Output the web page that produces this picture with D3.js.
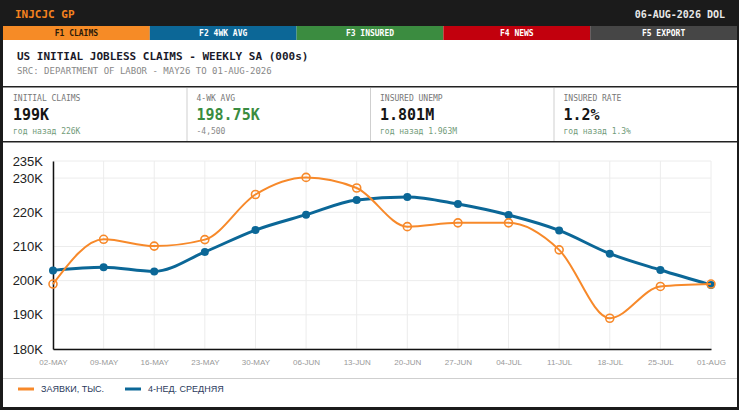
<!DOCTYPE html>
<html>
<head>
<meta charset="utf-8">
<script src="https://cdn.jsdelivr.net/npm/d3@7"></script>
<style>
  html, body { margin: 0; padding: 0; background: #fff; }
  svg { display: block; }
  .mono { font-family: "DejaVu Sans Mono", monospace; }
</style>
</head>
<body>
<div id="chart"></div>
<script>
// weeks shown on the x axis
var weeks = ['02-MAY', '09-MAY', '16-MAY', '23-MAY', '30-MAY', '06-JUN', '13-JUN',
             '20-JUN', '27-JUN', '04-JUL', '11-JUL', '18-JUL', '25-JUL', '01-AUG'];
// initial claims, thousands
var claims = [199, 212.1, 210.1, 212, 225.2, 230.2, 227.1, 215.8, 216.9, 216.9, 209, 189, 198.3, 199];
// 4-week moving average, thousands
var avg4wk = [203, 203.9, 202.7, 208.4, 214.8, 219.3, 223.6, 224.5, 222.4, 219.2, 214.7, 207.9, 203.1, 198.75];
var yTicks = [180, 190, 200, 210, 220, 230, 235];

var tabs = ['F1 CLAIMS', 'F2 4WK AVG', 'F3 INSURED', 'F4 NEWS', 'F5 EXPORT'];
var tabColors = ['#f68b26', '#0c6797', '#3b8c40', '#c2000d', '#464646'];

var statLabels = ['INITIAL CLAIMS', '4-WK AVG', 'INSURED UNEMP', 'INSURED RATE'];
var statValues = ['199K', '198.75K', '1.801M', '1.2%'];
var statSubs = ['год назад 226K', '-4,500', 'год назад 1.963M', 'год назад 1.3%'];

var W = 739, H = 410;
var orange = '#f7892a', blue = '#0b6797';

var svg = d3.select('#chart').append('svg')
    .attr('width', W)
    .attr('height', H);

// header bar
svg.append('rect').attr('x', 0).attr('y', 0).attr('width', W).attr('height', 26).style('fill', '#1b1b1b');
svg.append('text').attr('class', 'mono')
    .attr('x', 15).attr('y', 18)
    .style('font-size', '11px').style('font-weight', 'bold').style('fill', '#f5821f')
    .text('INJCJC GP');
svg.append('text').attr('class', 'mono')
    .attr('x', 725).attr('y', 18).attr('text-anchor', 'end')
    .style('font-size', '10px').style('font-weight', 'bold').style('fill', '#e8e8e8')
    .text('06-AUG-2026 DOL');

// frame
svg.append('rect').attr('x', 0).attr('y', 26).attr('width', W).attr('height', H - 26).style('fill', '#1b1b1b');
svg.append('rect').attr('x', 3).attr('y', 26).attr('width', 734).attr('height', 381).style('fill', '#fff');

// function key tabs
var tabX = d3.scaleBand().domain(tabs).range([3, 737]);
svg.selectAll('rect.tab').data(tabs).enter().append('rect')
    .attr('class', 'tab')
    .attr('x', function(d) { return tabX(d); })
    .attr('y', 26)
    .attr('width', tabX.bandwidth())
    .attr('height', 14)
    .style('fill', function(d, i) { return tabColors[i]; });
svg.selectAll('text.tab').data(tabs).enter().append('text')
    .attr('class', 'tab mono')
    .attr('x', function(d) { return tabX(d) + tabX.bandwidth() / 2; })
    .attr('y', 36)
    .attr('text-anchor', 'middle')
    .style('font-size', '8px').style('font-weight', 'bold')
    .style('fill', function(d, i) { return i === 0 ? '#2a1a0a' : '#fff'; })
    .text(function(d) { return d; });

// title block
svg.append('text').attr('class', 'mono')
    .attr('x', 17).attr('y', 60)
    .style('font-size', '11px').style('font-weight', 'bold').style('fill', '#1a1a2a')
    .text('US INITIAL JOBLESS CLAIMS - WEEKLY SA (000s)');
svg.append('text').attr('class', 'mono')
    .attr('x', 17).attr('y', 74)
    .style('font-size', '9px').style('fill', '#888')
    .text('SRC: DEPARTMENT OF LABOR - MAY26 TO 01-AUG-2026');

svg.append('rect').attr('x', 3).attr('y', 86).attr('width', 734).attr('height', 1.5).style('fill', '#222');
svg.append('rect').attr('x', 3).attr('y', 141).attr('width', 734).attr('height', 1.5).style('fill', '#222');

// stat boxes
var statX = d3.scaleBand().domain(d3.range(4)).range([3, 737]);
var stats = svg.selectAll('g.stat').data(statLabels).enter().append('g')
    .attr('class', 'stat')
    .attr('transform', function(d, i) { return 'translate(' + statX(i) + ',0)'; });
stats.filter(function(d, i) { return i > 0; }).append('line')
    .attr('x1', 0.5).attr('x2', 0.5).attr('y1', 88).attr('y2', 141)
    .attr('stroke', '#cfcfcf');
stats.append('text').attr('class', 'mono')
    .attr('x', 10).attr('y', 101)
    .style('font-size', '8px').style('fill', '#777')
    .text(function(d) { return d; });
stats.append('text').attr('class', 'mono')
    .attr('x', 10).attr('y', 120)
    .style('font-size', '15px').style('font-weight', 'bold')
    .style('fill', function(d, i) { return i === 1 ? '#3a8c40' : '#151515'; })
    .text(function(d, i) { return statValues[i]; });
stats.append('text').attr('class', 'mono')
    .attr('x', 10).attr('y', 134)
    .style('font-size', '8px')
    .style('fill', function(d, i) { return i === 1 ? '#888' : '#729b7a'; })
    .text(function(d, i) { return statSubs[i]; });

// chart
var x = d3.scalePoint().domain(weeks).range([53, 711]);
var y = d3.scaleLinear().domain([180, 235]).range([349, 161]);

var plot = svg.append('g');

plot.selectAll('line.hgrid').data(yTicks).enter().append('line')
    .attr('class', 'hgrid')
    .attr('x1', 53).attr('x2', 711)
    .attr('y1', function(d) { return y(d); }).attr('y2', function(d) { return y(d); })
    .attr('stroke', '#ececec');
plot.selectAll('line.vgrid').data(weeks).enter().append('line')
    .attr('class', 'vgrid')
    .attr('x1', function(d) { return x(d); }).attr('x2', function(d) { return x(d); })
    .attr('y1', 161).attr('y2', 349)
    .attr('stroke', '#ececec');

var yAxis = plot.append('g')
    .attr('transform', 'translate(53,0)')
    .call(d3.axisLeft(y).tickValues(yTicks).tickSize(0).tickPadding(10)
        .tickFormat(function(d) { return d + 'K'; }));
yAxis.select('.domain').attr('stroke', '#111').attr('stroke-width', 1.5);
yAxis.selectAll('text')
    .style('font-family', '"Liberation Sans", Arial, sans-serif')
    .style('font-size', '13px').style('fill', '#222');

var xAxis = plot.append('g')
    .attr('transform', 'translate(0,349)')
    .call(d3.axisBottom(x).tickSize(0).tickPadding(10));
xAxis.select('.domain').attr('stroke', '#111').attr('stroke-width', 1.5);
xAxis.selectAll('text')
    .style('font-family', '"Liberation Sans", Arial, sans-serif')
    .style('font-size', '8px').style('fill', '#999');

var line = function(vals) {
    return d3.line()
        .x(function(d, i) { return x(weeks[i]); })
        .y(function(d) { return y(d); })
        .curve(d3.curveMonotoneX)(vals);
};

plot.append('path').attr('d', line(avg4wk))
    .style('fill', 'none').attr('stroke', blue).style('stroke-width', 3);
plot.selectAll('circle.avg').data(avg4wk).enter().append('circle')
    .attr('class', 'avg')
    .attr('cx', function(d, i) { return x(weeks[i]); })
    .attr('cy', function(d) { return y(d); })
    .attr('r', 4)
    .style('fill', blue);

plot.append('path').attr('d', line(claims))
    .style('fill', 'none').attr('stroke', orange).style('stroke-width', 2);
plot.selectAll('circle.claims').data(claims).enter().append('circle')
    .attr('class', 'claims')
    .attr('cx', function(d, i) { return x(weeks[i]); })
    .attr('cy', function(d) { return y(d); })
    .attr('r', 4)
    .style('fill', 'none')
    .attr('stroke', orange)
    .style('stroke-width', 1.6);

// legend
svg.append('line').attr('x1', 3).attr('x2', 737).attr('y1', 378.5).attr('y2', 378.5).attr('stroke', '#cfcfcf');
var legend = [['ЗАЯВКИ, ТЫС.', orange, 18], ['4-НЕД. СРЕДНЯЯ', blue, 125]];
var lg = svg.selectAll('g.legend').data(legend).enter().append('g')
    .attr('class', 'legend')
    .attr('transform', function(d) { return 'translate(' + d[2] + ',392)'; });
lg.append('line')
    .attr('x1', 0).attr('x2', 16).attr('y1', -3).attr('y2', -3)
    .attr('stroke', function(d) { return d[1]; })
    .style('stroke-width', 3);
lg.append('text')
    .attr('x', 23).attr('y', 0)
    .style('font-family', '"Liberation Sans", Arial, sans-serif')
    .style('font-size', '9px').style('fill', '#2b3a5c')
    .text(function(d) { return d[0]; });
</script>
</body>
</html>
